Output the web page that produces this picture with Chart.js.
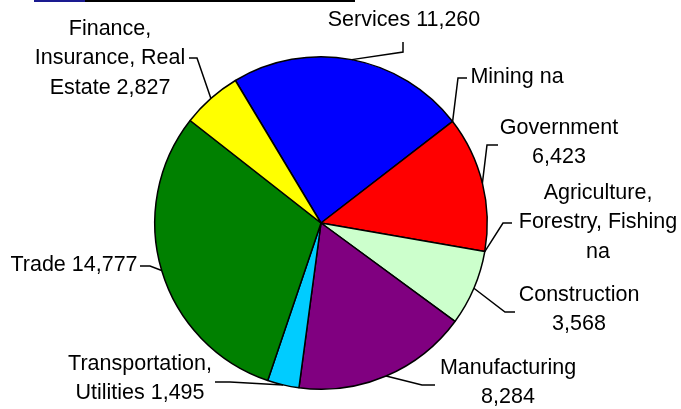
<!DOCTYPE html>
<html>
<head>
    <title>Employment by Industry</title>
    <script src="https://cdn.jsdelivr.net/npm/chart.js"></script>
    <style>
        body { margin: 0; background: #fff; }
        #wrap { width: 681px; height: 409px; position: relative; }
    </style>
</head>
<body>
    <div id="wrap"><canvas id="pieChart" width="681" height="409"></canvas></div>

    <script>
        // data (clockwise from the Services slice)
        const industries = ['Services', 'Mining', 'Government', 'Agriculture, Forestry, Fishing',
            'Construction', 'Manufacturing', 'Transportation, Utilities', 'Trade',
            'Finance, Insurance, Real Estate'];
        const jobs = [11260, 0, 6423, 0, 3568, 8284, 1495, 14777, 2827];
        const valueText = ['11,260', 'na', '6,423', 'na', '3,568', '8,284', '1,495', '14,777', '2,827'];
        // label lines as drawn in the picture
        const labelLines = [
            ['Services 11,260'],
            ['Mining na'],
            ['Government', '6,423'],
            ['Agriculture,', 'Forestry, Fishing', 'na'],
            ['Construction', '3,568'],
            ['Manufacturing', '8,284'],
            ['Transportation,', 'Utilities 1,495'],
            ['Trade 14,777'],
            ['Finance,', 'Insurance, Real', 'Estate 2,827']
        ];
        const sliceColors = ['#0000ff', '#ff0000', '#ff0000', '#ccffcc', '#ccffcc',
            '#800080', '#00ccff', '#008000', '#ffff00'];

        // label layout: text block centre, then leader elbow and end
        const labelLayout = [
            { x: 404, y: 20, elbow: [403, 52], end: [403, 42] },
            { x: 517, y: 77, elbow: [458, 78], end: [467, 78] },
            { x: 559, y: 128, elbow: [487, 145], end: [498, 145] },
            { x: 598, y: 193, elbow: [503, 223], end: [512, 223] },
            { x: 579, y: 295, elbow: [505, 312], end: [515, 312] },
            { x: 508, y: 368, elbow: [422, 385], end: [435, 385] },
            { x: 140, y: 364, elbow: [230, 382], end: [215, 382] },
            { x: 74, y: 265, elbow: [150, 266], end: [140, 266] },
            { x: 110, y: 29, elbow: [197, 58], end: [189, 58] }
        ];
        const lineGap = 29.5;

        const leaderLabels = {
            id: 'leaderLabels',
            beforeDraw(chart) {
                const c = chart.ctx;
                c.save();
                c.fillStyle = '#fff';
                c.fillRect(0, 0, chart.width, chart.height);
                // remains of a clipped heading
                c.fillStyle = '#1a1a90';
                c.fillRect(34, 0, 51, 2);
                c.fillStyle = '#000';
                c.fillRect(85, 0, 270, 2);
                c.restore();
            },
            afterDatasetsDraw(chart) {
                const c = chart.ctx;
                const arcs = chart.getDatasetMeta(0).data;
                c.save();
                c.strokeStyle = '#000';
                c.lineWidth = 1.5;
                c.fillStyle = '#000';
                c.font = '21.5px "Liberation Sans", Arial, sans-serif';
                c.textAlign = 'center';
                c.textBaseline = 'middle';
                arcs.forEach((arc, i) => {
                    const p = arc.getProps(['x', 'y', 'startAngle', 'endAngle', 'outerRadius'], true);
                    const mid = (p.startAngle + p.endAngle) / 2;
                    const ex = p.x + Math.cos(mid) * p.outerRadius;
                    const ey = p.y + Math.sin(mid) * p.outerRadius;
                    const lay = labelLayout[i];
                    c.beginPath();
                    c.moveTo(ex, ey);
                    c.lineTo(lay.elbow[0], lay.elbow[1]);
                    c.lineTo(lay.end[0], lay.end[1]);
                    c.stroke();
                    labelLines[i].forEach((t, k) => {
                        c.fillText(t, lay.x, lay.y + k * lineGap);
                    });
                });
                c.restore();
            }
        };

        const ctx = document.getElementById('pieChart').getContext('2d');
        const pieChart = new Chart(ctx, {
            type: 'pie',
            data: {
                labels: industries,
                datasets: [{
                    data: jobs,
                    backgroundColor: sliceColors,
                    borderColor: '#000',
                    borderWidth: 1.5
                }]
            },
            options: {
                animation: false,
                responsive: false,
                rotation: -31,
                layout: { padding: { left: 154, right: 193, top: 56, bottom: 19 } },
                plugins: {
                    legend: { display: false },
                    tooltip: { enabled: false }
                }
            },
            plugins: [leaderLabels]
        });
    </script>
</body>
</html>
